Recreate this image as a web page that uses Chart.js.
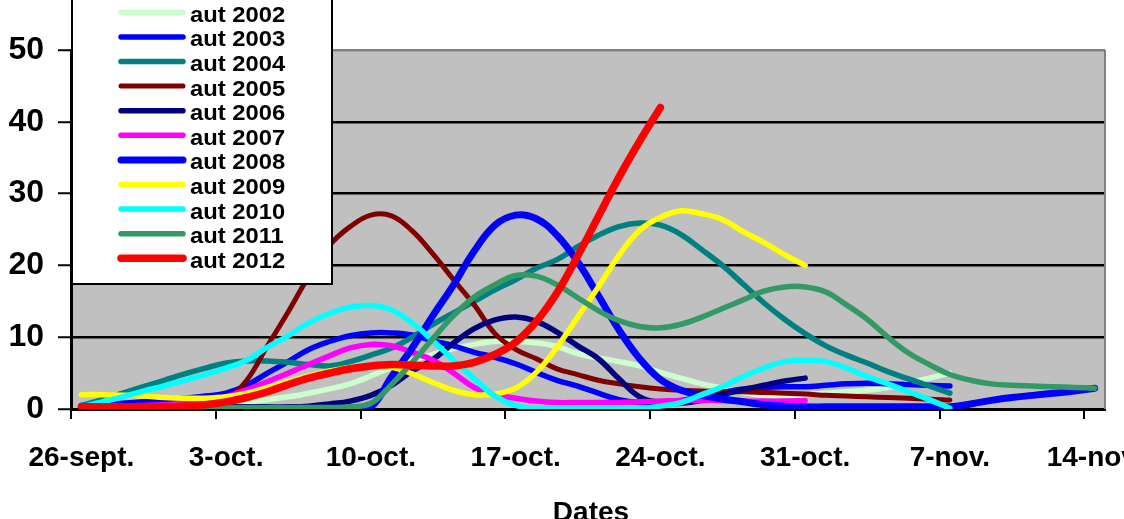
<!DOCTYPE html>
<html>
<head>
<meta charset="utf-8">
<script src="https://cdn.jsdelivr.net/npm/chart.js@4/dist/chart.umd.min.js"></script>
<style>
  html, body { margin: 0; padding: 0; background: #fff; overflow: hidden; }
  canvas { display: block; }
</style>
</head>
<body>
<canvas id="myChart" width="1124" height="519"></canvas>
<script>
    // categories: one per day, 26 sept -> 14 nov
    var categories = ['26-sept.', '27-sept.', '28-sept.', '29-sept.', '30-sept.',
        '1-oct.', '2-oct.', '3-oct.', '4-oct.', '5-oct.', '6-oct.', '7-oct.', '8-oct.', '9-oct.', '10-oct.',
        '11-oct.', '12-oct.', '13-oct.', '14-oct.', '15-oct.', '16-oct.', '17-oct.', '18-oct.', '19-oct.', '20-oct.',
        '21-oct.', '22-oct.', '23-oct.', '24-oct.', '25-oct.', '26-oct.', '27-oct.', '28-oct.', '29-oct.', '30-oct.', '31-oct.',
        '1-nov.', '2-nov.', '3-nov.', '4-nov.', '5-nov.', '6-nov.', '7-nov.', '8-nov.', '9-nov.', '10-nov.',
        '11-nov.', '12-nov.', '13-nov.', '14-nov.'];

    var yTicks = [0, 10, 20, 30, 40, 50];

    var aut2002 = [0.3, 0.3, 0.3, 0.35, 0.4, 0.45, 0.6, 0.8, 1.0, 1.3, 1.7, 2.2, 2.8, 3.5, 4.6, 5.8, 6.8, 7.6, 8.4, 9.0,
        9.4, 9.4, 9.2, 8.7, 7.7, 7.1, 6.6, 6.0, 5.1, 4.3, 3.5, 2.9, 2.3, 1.9, 1.9, 2.0, 2.2, 2.4, 2.6, 3.0, 3.6, 4.3, 5.0];
    var aut2003 = [0.5, 0.6, 0.8, 1.0, 1.2, 1.5, 1.8, 2.2, 3.3, 5.0, 6.6, 8.3, 9.4, 10.2, 10.6, 10.6, 10.3, 9.5, 8.8, 7.9,
        7.2, 6.3, 5.1, 4.0, 3.2, 2.2, 1.3, 0.9, 0.9, 1.2, 1.7, 2.3, 2.8, 3.0, 3.1, 3.1, 3.3, 3.5, 3.6, 3.5, 3.4, 3.3, 3.2];
    var aut2004 = [0.5, 1.3, 2.2, 3.1, 4.0, 4.9, 5.7, 6.4, 6.7, 6.7, 6.5, 6.2, 6.0, 6.6, 7.5, 8.5, 10.0, 11.8, 13.4, 15.0,
        16.6, 18.0, 19.6, 20.8, 22.6, 24.2, 25.4, 25.9, 25.6, 24.3, 22.2, 20.0, 17.4, 14.8, 12.5, 10.5, 8.8, 7.5, 6.4, 5.2,
        4.2, 3.2, 2.2];
    var aut2005 = [0.2, 0.2, 0.2, 0.2, 0.3, 0.3, 0.5, 1.3, 4.0, 8.8, 13.5, 18.5, 22.8, 25.4, 27.0, 26.9, 24.8, 21.6, 18.0, 14.5,
        10.5, 8.3, 7.0, 5.6, 4.8, 4.0, 3.5, 3.1, 2.8, 2.6, 2.5, 2.4, 2.4, 2.3, 2.2, 2.1, 1.9, 1.8, 1.7, 1.6, 1.5, 1.35, 1.25];
    var aut2006 = [0.3, 0.3, 0.3, 0.3, 0.3, 0.3, 0.3, 0.3, 0.3, 0.3, 0.3, 0.4, 0.7, 1.1, 1.9, 3.3, 5.3, 6.9, 9.2, 11.2,
        12.4, 12.8, 12.2, 10.7, 8.8, 7.0, 4.2, 1.7, 0.9, 0.8, 1.2, 2.0, 2.7, 3.3, 3.9, 4.3];
    var aut2007 = [0.3, 0.3, 0.4, 0.5, 0.6, 0.8, 1.1, 1.7, 2.7, 3.8, 5.0, 6.2, 7.4, 8.5, 9.0, 8.8, 7.9, 6.8, 5.0, 3.0,
        2.0, 1.5, 1.1, 0.9, 0.9, 0.9, 0.9, 1.0, 1.1, 1.2, 1.2, 1.2, 1.1, 1.1, 1.1, 1.2];
    var aut2008 = [0, 0, 0, 0, 0, 0, 0, 0, 0, 0, 0, 0, 0, 0, 0.3, 4.5, 8.5, 13.0, 17.3, 22.0,
        25.6, 27.0, 26.5, 24.2, 20.5, 15.8, 11.0, 7.0, 4.1, 2.6, 1.9, 1.4, 1.0, 0.6, 0.4, 0.3, 0.3, 0.3, 0.3, 0.3,
        0.3, 0.3, 0.3, 0.7, 1.2, 1.6, 1.9, 2.2, 2.5, 2.9];
    var aut2009 = [2.0, 2.0, 1.9, 1.8, 1.6, 1.5, 1.5, 1.7, 2.2, 3.0, 3.8, 4.6, 5.3, 5.8, 6.0, 5.8, 4.9, 3.7, 2.6, 2.0,
        2.1, 2.9, 5.1, 8.6, 12.8, 17.0, 21.4, 24.9, 26.7, 27.6, 27.2, 26.4, 24.7, 23.2, 21.5, 20.0];
    var aut2010 = [0.3, 1.0, 1.7, 2.5, 3.2, 4.0, 4.8, 5.7, 6.8, 8.6, 10.2, 12.0, 13.3, 14.2, 14.4, 13.8, 12.0, 9.5, 6.8, 4.2,
        1.8, 0.5, 0.1, 0.1, 0.1, 0.1, 0.1, 0.1, 0.4, 0.9, 2.0, 3.1, 4.5, 5.7, 6.6, 6.8, 6.6, 5.7, 4.5, 3.5,
        2.4, 1.3, 0.1];
    var aut2011 = [0.2, 0.2, 0.2, 0.2, 0.2, 0.2, 0.2, 0.2, 0.2, 0.2, 0.2, 0.2, 0.2, 0.3, 0.8, 3.4, 6.5, 9.8, 13.0, 15.6,
        17.3, 18.6, 18.5, 17.3, 15.5, 13.7, 12.3, 11.5, 11.3, 11.8, 12.8, 14.0, 15.2, 16.4, 17.0, 17.0, 16.3, 14.5, 12.5, 10.0,
        7.8, 6.2, 4.8, 4.0, 3.5, 3.3, 3.2, 3.1, 3.0, 2.9];
    var aut2012 = [0.3, 0.3, 0.3, 0.3, 0.3, 0.4, 0.6, 1.0, 1.6, 2.4, 3.4, 4.3, 5.0, 5.6, 6.0, 6.2, 6.1, 6.0, 6.0, 6.5,
        7.6, 9.3, 12.2, 16.2, 21.3, 26.8, 32.3, 37.3, 42.0];

    var seriesNames = ['aut 2002', 'aut 2003', 'aut 2004', 'aut 2005', 'aut 2006', 'aut 2007',
        'aut 2008', 'aut 2009', 'aut 2010', 'aut 2011', 'aut 2012'];
    var seriesData = [aut2002, aut2003, aut2004, aut2005, aut2006, aut2007, aut2008, aut2009, aut2010, aut2011, aut2012];
    var seriesColors = ['#CCFFCC', '#0000FF', '#008080', '#800000', '#000080', '#FF00FF',
        '#0000FF', '#FFFF00', '#00FFFF', '#339966', '#FF0000'];
    var seriesWidths = [5.5, 5.5, 5.5, 5, 5.5, 5.5, 7, 5.5, 5.5, 5.5, 7.5];

    var FONT = "'Liberation Sans', Arial, sans-serif";

    var datasets = seriesData.map(function (d, i) {
        return {
            label: seriesNames[i],
            data: d,
            borderColor: seriesColors[i],
            backgroundColor: seriesColors[i],
            borderWidth: seriesWidths[i],
            fill: false,
            tension: 0.4,
            pointRadius: 0,
            borderCapStyle: 'round',
            borderJoinStyle: 'round',
            order: seriesData.length - i
        };
    });

    /* grey plot area, right border, legend box and axis title */
    var decor = {
        id: 'decor',
        beforeDraw: function (chart) {
            var a = chart.chartArea, c = chart.ctx;
            c.save();
            c.fillStyle = '#C0C0C0';
            c.fillRect(a.left, a.top, a.right - a.left, a.bottom - a.top);
            c.restore();
        },
        afterDraw: function (chart) {
            var a = chart.chartArea, c = chart.ctx;
            c.save();
            c.strokeStyle = '#808080';
            c.lineWidth = 2;
            c.beginPath();
            c.moveTo(a.right, a.top);
            c.lineTo(a.right, a.bottom);
            c.stroke();

            // legend
            c.fillStyle = '#fff';
            c.fillRect(72, -5, 260, 289);
            c.strokeStyle = '#000';
            c.lineWidth = 2;
            c.strokeRect(72, -5, 260, 289);
            c.lineCap = 'round';
            c.font = 'bold 22px ' + FONT;
            c.textBaseline = 'middle';
            c.textAlign = 'left';
            chart.data.datasets.forEach(function (ds, k) {
                var y = 12.3 + k * 24.6;
                c.strokeStyle = ds.borderColor;
                c.lineWidth = ds.borderWidth;
                c.beginPath();
                c.moveTo(121, y);
                c.lineTo(183, y);
                c.stroke();
                c.fillStyle = '#000';
                c.save();
                c.translate(190, y + 3.5);
                c.scale(1.08, 1);
                c.fillText(ds.label, 0, 0);
                c.restore();
            });

            // x axis title
            c.font = 'bold 28px ' + FONT;
            c.textAlign = 'center';
            c.textBaseline = 'alphabetic';
            c.fillStyle = '#000';
            c.fillText('Dates', 591, 521);
            c.restore();
        }
    };

    var ctx = document.getElementById('myChart').getContext('2d');
    var chart = new Chart(ctx, {
        type: 'line',
        data: {
            labels: categories,
            datasets: datasets
        },
        options: {
            responsive: false,
            animation: false,
            layout: { padding: { top: 50, right: 19, bottom: 0, left: 0 } },
            plugins: {
                legend: { display: false },
                tooltip: { enabled: false }
            },
            scales: {
                x: {
                    offset: true,
                    grid: {
                        offset: true,
                        drawOnChartArea: false,
                        tickLength: 10,
                        lineWidth: 2,
                        color: function (c) {
                            return (c.type === 'tick' && c.index % 7 === 0) ? '#000' : 'rgba(0,0,0,0)';
                        }
                    },
                    border: { color: '#000', width: 3 },
                    ticks: {
                        autoSkip: false,
                        maxRotation: 0,
                        minRotation: 0,
                        padding: 22,
                        color: '#000',
                        font: { family: FONT, size: 28, weight: 'bold' },
                        callback: function (v, i) {
                            return i % 7 === 0 ? categories[i] : '';
                        }
                    },
                    afterFit: function (s) {
                        s.height = 110;
                        s.paddingLeft = 0;
                        s.paddingRight = 0;
                    }
                },
                y: {
                    min: 0,
                    max: 50,
                    afterBuildTicks: function (s) {
                        s.ticks = yTicks.map(function (v) { return { value: v }; });
                    },
                    grid: {
                        lineWidth: 2.5,
                        tickLength: 13,
                        tickColor: '#000',
                        tickWidth: 2,
                        color: function (c) {
                            return (c.tick && c.tick.value === 50) ? '#808080' : '#000';
                        }
                    },
                    border: { color: '#000', width: 3 },
                    ticks: {
                        padding: 14,
                        color: '#000',
                        font: { family: FONT, size: 32, weight: 'bold' }
                    },
                    afterFit: function (s) {
                        s.width = 71;
                        s.paddingTop = 0;
                        s.paddingBottom = 0;
                    }
                }
            }
        },
        plugins: [decor]
    });
</script>
</body>
</html>
